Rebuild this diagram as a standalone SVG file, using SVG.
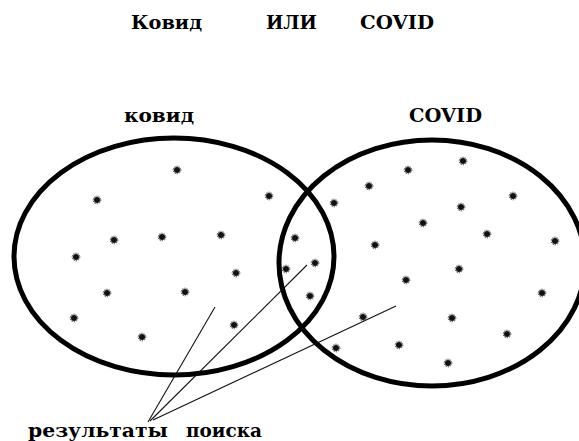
<svg xmlns="http://www.w3.org/2000/svg" width="579" height="441" viewBox="0 0 579 441">
<style>
.t{font-family:"DejaVu Serif","Liberation Serif",serif;font-weight:bold;fill:#000}
.ring{fill:none;stroke:#000;stroke-width:5}
.ln{stroke:#111;stroke-width:1.1;fill:none}
.d{fill:#111}
</style>
<defs>
<symbol id="dot" viewBox="-5 -5 10 10" overflow="visible">
<circle r="3" class="d"/>
<circle r="3.8" fill="none" stroke="#333" stroke-width="1" stroke-dasharray="1.3 1.1"/>
</symbol>
</defs>
<rect width="579" height="441" fill="#fff"/>
<g id="title">
<text class="t" x="131" y="29" font-size="19" textLength="71" lengthAdjust="spacingAndGlyphs">Ковид</text>
<text class="t" x="266" y="29" font-size="19" textLength="51" lengthAdjust="spacingAndGlyphs">ИЛИ</text>
<text class="t" x="360" y="29" font-size="19" textLength="74" lengthAdjust="spacingAndGlyphs">COVID</text>
</g>
<g id="set-kovid">
<ellipse class="ring" cx="174" cy="256.5" rx="160" ry="118.5"/>
<text class="t" x="124" y="122" font-size="19" textLength="70" lengthAdjust="spacingAndGlyphs">ковид</text>
</g>
<g id="set-covid">
<ellipse class="ring" cx="432" cy="263" rx="153" ry="123"/>
<text class="t" x="409" y="122" font-size="19" textLength="73" lengthAdjust="spacingAndGlyphs">COVID</text>
</g>
<g id="dots" transform="translate(-5,-5)">
<use href="#dot" x="177" y="170" width="10" height="10"/>
<use href="#dot" x="97" y="200" width="10" height="10"/>
<use href="#dot" x="269" y="196" width="10" height="10"/>
<use href="#dot" x="114" y="240" width="10" height="10"/>
<use href="#dot" x="162" y="237" width="10" height="10"/>
<use href="#dot" x="221" y="235" width="10" height="10"/>
<use href="#dot" x="76" y="257" width="10" height="10"/>
<use href="#dot" x="236" y="273" width="10" height="10"/>
<use href="#dot" x="107" y="293" width="10" height="10"/>
<use href="#dot" x="185" y="292" width="10" height="10"/>
<use href="#dot" x="74" y="318" width="10" height="10"/>
<use href="#dot" x="142" y="337" width="10" height="10"/>
<use href="#dot" x="234" y="325" width="10" height="10"/>
<use href="#dot" x="295" y="238" width="10" height="10"/>
<use href="#dot" x="315" y="263" width="10" height="10"/>
<use href="#dot" x="286" y="269" width="10" height="10"/>
<use href="#dot" x="310" y="296" width="10" height="10"/>
<use href="#dot" x="334" y="203" width="10" height="10"/>
<use href="#dot" x="369" y="186" width="10" height="10"/>
<use href="#dot" x="408" y="170" width="10" height="10"/>
<use href="#dot" x="463" y="161" width="10" height="10"/>
<use href="#dot" x="513" y="196" width="10" height="10"/>
<use href="#dot" x="461" y="207" width="10" height="10"/>
<use href="#dot" x="375" y="245" width="10" height="10"/>
<use href="#dot" x="423" y="223" width="10" height="10"/>
<use href="#dot" x="487" y="234" width="10" height="10"/>
<use href="#dot" x="555" y="241" width="10" height="10"/>
<use href="#dot" x="459" y="269" width="10" height="10"/>
<use href="#dot" x="406" y="280" width="10" height="10"/>
<use href="#dot" x="542" y="293" width="10" height="10"/>
<use href="#dot" x="452" y="318" width="10" height="10"/>
<use href="#dot" x="363" y="317" width="10" height="10"/>
<use href="#dot" x="507" y="334" width="10" height="10"/>
<use href="#dot" x="399" y="345" width="10" height="10"/>
<use href="#dot" x="336" y="348" width="10" height="10"/>
<use href="#dot" x="448" y="363" width="10" height="10"/>
</g>
<g id="connectors">
<line class="ln" x1="215" y1="307" x2="148" y2="422"/>
<line class="ln" x1="307" y1="265" x2="150" y2="421"/>
<line class="ln" x1="396" y1="306" x2="153" y2="420"/>
</g>
<g id="label-results">
<text class="t" y="437" font-size="18"><tspan x="28" textLength="140" lengthAdjust="spacingAndGlyphs">результаты</tspan><tspan x="186" textLength="76" lengthAdjust="spacingAndGlyphs">поиска</tspan></text>
</g>
</svg>
